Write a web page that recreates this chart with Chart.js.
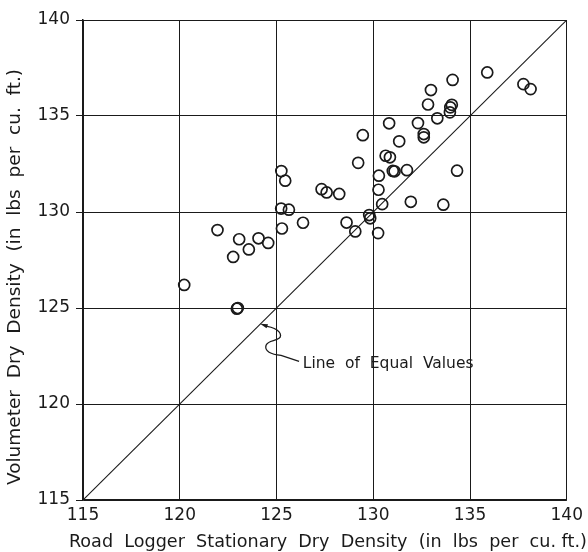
<!DOCTYPE html>
<html>
<head>
<meta charset="utf-8">
<script src="https://cdn.jsdelivr.net/npm/chart.js@4.4.1/dist/chart.umd.min.js"></script>
<style>
  html, body { margin: 0; padding: 0; background: #fff; }
  #wrap { width: 588px; height: 552px; }
</style>
</head>
<body>
<div id="wrap"><canvas id="c" width="588" height="552"></canvas></div>
<script>
// Road logger (stationary) vs. volumeter dry density, lbs per cu. ft.
const roadLoggerDensity = [
  120.23, 121.95, 122.76, 122.95, 123.00, 123.07, 123.57, 124.07, 124.57,
  125.25, 125.45, 125.24, 125.64, 125.28, 126.37, 127.33, 127.59, 128.24,
  128.62, 129.07, 129.22, 129.46, 129.79, 129.84, 130.25, 130.29, 130.27,
  130.46, 130.64, 130.86, 130.82, 131.01, 131.10, 131.34, 131.74, 131.94,
  132.31, 132.61, 132.61, 132.83, 132.98, 133.31, 133.62, 133.96, 133.98,
  134.06, 134.10, 134.33, 135.89, 137.76, 138.13
];
const volumeterDensity = [
  126.20, 129.06, 127.66, 124.96, 125.00, 128.58, 128.05, 128.63, 128.39,
  132.13, 131.63, 130.18, 130.12, 129.14, 129.44, 131.19, 131.02, 130.94,
  129.45, 128.99, 132.56, 134.00, 129.84, 129.67, 128.90, 131.89, 131.16,
  130.41, 132.93, 132.85, 134.62, 132.14, 132.12, 133.68, 132.18, 130.53,
  134.63, 134.06, 133.89, 135.60, 136.35, 134.88, 130.38, 135.19, 135.45,
  135.58, 136.88, 132.15, 137.27, 136.66, 136.40
];
const axisTicks = [115, 120, 125, 130, 135, 140];
const equalValues = [115, 140];
const noteText = 'Line  of  Equal  Values';
const xTitle = 'Road  Logger  Stationary  Dry  Density  (in  lbs  per  cu. ft.)';
const yTitle = 'Volumeter  Dry  Density  (in  lbs  per  cu.  ft.)';

const ink = '#1a1a1a';
const fontFamily = '"DejaVu Sans", sans-serif';

const points = roadLoggerDensity.map((x, i) => ({ x, y: volumeterDensity[i] }));
const diagonal = equalValues.map(v => ({ x: v, y: v }));

// Leader from the 45-degree line to its label, plus the label itself
const notePlugin = {
  id: 'equalNote',
  afterDatasetsDraw(chart) {
    const { ctx, scales: { x, y } } = chart;
    const v = 124.15;
    const tx = x.getPixelForValue(v) - 1, ty = y.getPixelForValue(v) - 1;
    ctx.save();
    ctx.strokeStyle = ink;
    ctx.fillStyle = ink;
    ctx.lineWidth = 1.3;
    // arrow head pointing at the line
    ctx.beginPath();
    ctx.moveTo(tx + 1, ty + 0.5);
    ctx.lineTo(tx + 9, ty + 1);
    ctx.lineTo(tx + 7.5, ty + 5);
    ctx.closePath();
    ctx.fill();
    // squiggle
    ctx.beginPath();
    ctx.moveTo(tx + 8, ty + 3);
    ctx.bezierCurveTo(tx + 20, ty + 5, tx + 24, ty + 12, tx + 20, ty + 15);
    ctx.bezierCurveTo(tx + 16, ty + 18, tx + 9, ty + 17, tx + 7, ty + 22);
    ctx.bezierCurveTo(tx + 5, ty + 28, tx + 12, ty + 31, tx + 22, ty + 32);
    ctx.lineTo(tx + 40, ty + 38);
    ctx.stroke();
    // label
    ctx.font = '15.5px ' + fontFamily;
    ctx.textBaseline = 'middle';
    ctx.textAlign = 'left';
    const lx = x.getPixelForValue(126.36), ly = y.getPixelForValue(122.1);
    ctx.fillText(noteText, lx, ly);
    ctx.restore();
  }
};

// Axis titles, free to run wider than the plot area
const axisTitlePlugin = {
  id: 'axisTitles',
  afterDraw(chart) {
    const { ctx, scales: { x, y } } = chart;
    ctx.save();
    ctx.fillStyle = ink;
    ctx.textAlign = 'center';
    ctx.textBaseline = 'middle';
    ctx.font = '17.6px ' + fontFamily;
    ctx.fillText(xTitle, (x.left + x.right) / 2 + 3, x.bottom - 10);
    ctx.translate(15, (y.top + y.bottom) / 2 + 17);
    ctx.rotate(-Math.PI / 2);
    ctx.font = '18.5px ' + fontFamily;
    ctx.fillText(yTitle, 0, 0);
    ctx.restore();
  }
};

new Chart(document.getElementById('c'), {
  type: 'scatter',
  data: {
    datasets: [
      {
        label: 'Tests',
        data: points,
        showLine: false,
        pointStyle: 'circle',
        pointRadius: 5.5,
        pointBorderWidth: 1.7,
        pointBorderColor: ink,
        pointBackgroundColor: 'rgba(255,255,255,0)',
        order: 1
      },
      {
        label: 'Equal values',
        data: diagonal,
        showLine: true,
        borderColor: ink,
        borderWidth: 1.1,
        pointRadius: 0,
        order: 2
      }
    ]
  },
  options: {
    responsive: false,
    animation: false,
    layout: { padding: { top: 20, right: 21, left: 0, bottom: 0 } },
    plugins: {
      legend: { display: false },
      tooltip: { enabled: false }
    },
    scales: {
      x: {
        type: 'linear',
        min: axisTicks[0],
        max: axisTicks[axisTicks.length - 1],
        afterBuildTicks(scale) { scale.ticks = axisTicks.map(v => ({ value: v })); },
        afterFit(scale) { scale.height = 52; },
        grid: { color: ink, lineWidth: 1, drawTicks: false },
        border: { color: ink, width: 1.5 },
        ticks: {
          color: ink,
          padding: 5,
          font: { family: fontFamily, size: 17 }
        },
        title: { display: false }
      },
      y: {
        type: 'linear',
        min: axisTicks[0],
        max: axisTicks[axisTicks.length - 1],
        afterBuildTicks(scale) { scale.ticks = axisTicks.map(v => ({ value: v })); },
        afterFit(scale) { scale.width = 83; },
        grid: { color: ink, lineWidth: 1, tickLength: 7 },
        border: { color: ink, width: 1.5 },
        ticks: {
          color: ink,
          padding: 6,
          font: { family: fontFamily, size: 17 }
        },
        title: { display: false }
      }
    }
  },
  plugins: [notePlugin, axisTitlePlugin]
});
</script>
</body>
</html>
